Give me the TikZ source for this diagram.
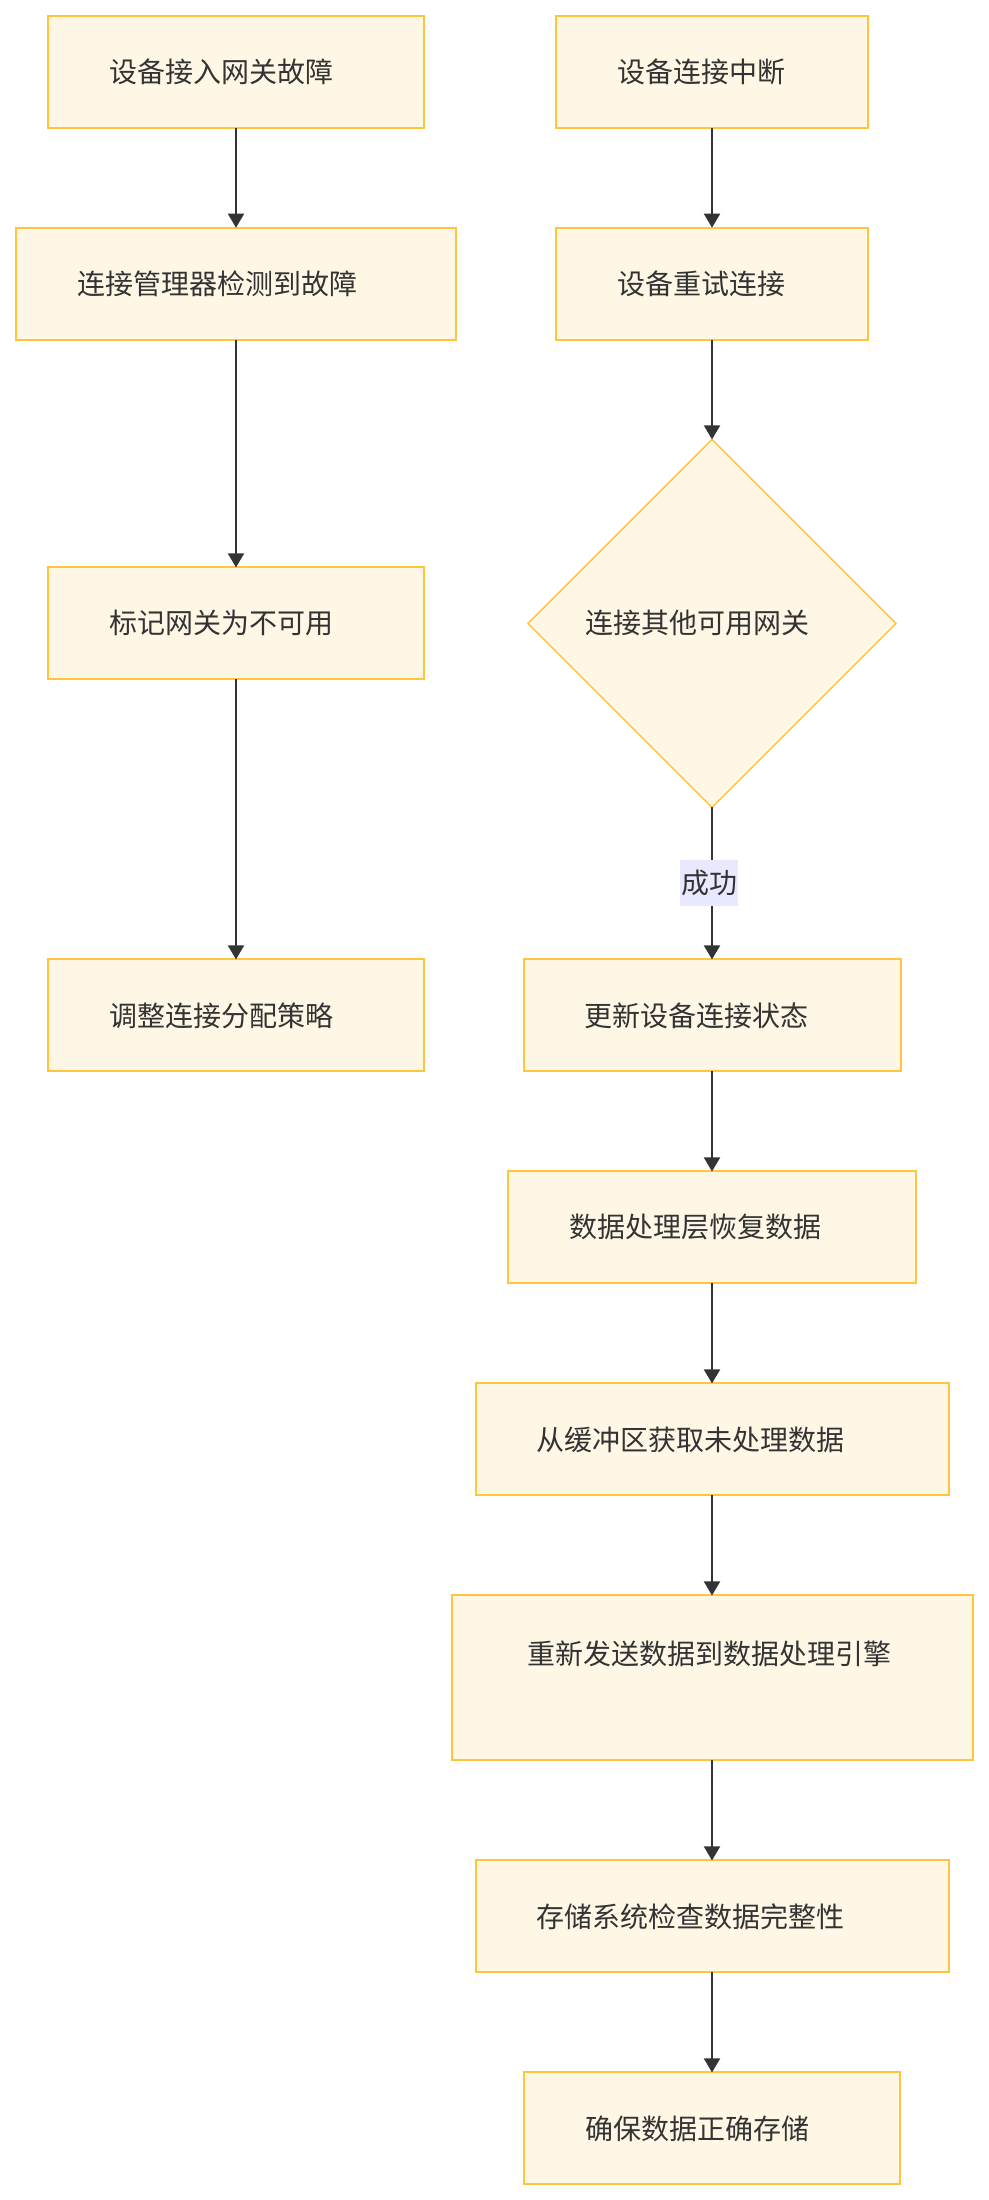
\documentclass[tikz,border=0pt]{standalone}
\usepackage{fontspec}
\setmainfont{Noto Sans CJK SC}
\usepackage{xcolor}
\usepackage{tikz}
\usetikzlibrary{shapes.geometric, arrows.meta, positioning}
\definecolor{boxfill}{HTML}{FFF7E6}
\definecolor{boxline}{HTML}{FFC53D}
\definecolor{textgray}{HTML}{333333}
\definecolor{labelbg}{HTML}{E8E8FF}
\tikzset{
  stepbox/.style={
    rectangle,
    draw=boxline,
    fill=boxfill,
    line width=2pt,
    text=textgray,
    text width=#1,
    align=left,
    inner xsep=61pt,
    minimum height=112pt,
    outer sep=0pt,
    font=\fontsize{28}{34}\selectfont
  },
  decision/.style={
    diamond,
    aspect=1,
    draw=boxline,
    fill=boxfill,
    line width=1.4pt,
    text=textgray,
    text width=254pt,
    align=left,
    inner sep=2pt,
    minimum width=368pt,
    minimum height=368pt,
    outer sep=0pt,
    font=\fontsize{28}{34}\selectfont
  },
  elabel/.style={
    fill=labelbg,
    text=textgray,
    inner xsep=1pt,
    inner ysep=10pt,
    font=\fontsize{28}{34}\selectfont
  },
  arrow/.style={
    line width=2pt,
    draw=textgray,
    ->,
    >={Triangle[width=16pt,length=14pt]}
  }
}
\begin{document}
\begin{tikzpicture}[x=1pt, y=1pt]
  \useasboundingbox (0,0) rectangle (988,-2200);

  % Gateway failure (left)
  \node (L1) [stepbox=254pt] at (236,-71.7) {设备接入网关故障};
  \node (L2) [stepbox=318pt, below=100pt of L1] {连接管理器检测到故障};

  % Device reconnect (right)
  \node (R1) [stepbox=190pt] at (712,-71.7) {设备连接中断};
  \node (R2) [stepbox=190pt, below=100pt of R1] {设备重试连接};
  \node (D)  [decision, below=99.7pt of R2] {连接其他可用网关};
  \node (R3) [stepbox=255pt, below=152pt of D] {更新设备连接状态};
  \node (R4) [stepbox=286pt, below=100pt of R3] {数据处理层恢复数据};
  \node (R5) [stepbox=351pt, below=100pt of R4] {从缓冲区获取未处理数据};
  \node (R6) [stepbox=369pt, inner xsep=76pt, minimum height=165pt, text depth=50.4pt, below=100pt of R5] {重新发送数据到数据处理引擎};
  \node (R7) [stepbox=351pt, below=100pt of R6] {存储系统检查数据完整性};
  \node (R8) [stepbox=254pt, below=100pt of R7] {确保数据正确存储};

  \node (L3) [stepbox=254pt] at (L1 |- D) {标记网关为不可用};
  \node (L4) [stepbox=254pt] at (L1 |- R3) {调整连接分配策略};

  % Arrows
  \draw[arrow] (L1) -- (L2);
  \draw[arrow] (L2) -- (L3);
  \draw[arrow] (L3) -- (L4);

  \draw[arrow] (R1) -- (R2);
  \draw[arrow] (R2) -- (D);
  \draw[arrow] (D) -- node[elabel, xshift=-3pt] {成功} (R3);
  \draw[arrow] (R3) -- (R4);
  \draw[arrow] (R4) -- (R5);
  \draw[arrow] (R5) -- (R6);
  \draw[arrow] (R6) -- (R7);
  \draw[arrow] (R7) -- (R8);

\end{tikzpicture}
\end{document}
